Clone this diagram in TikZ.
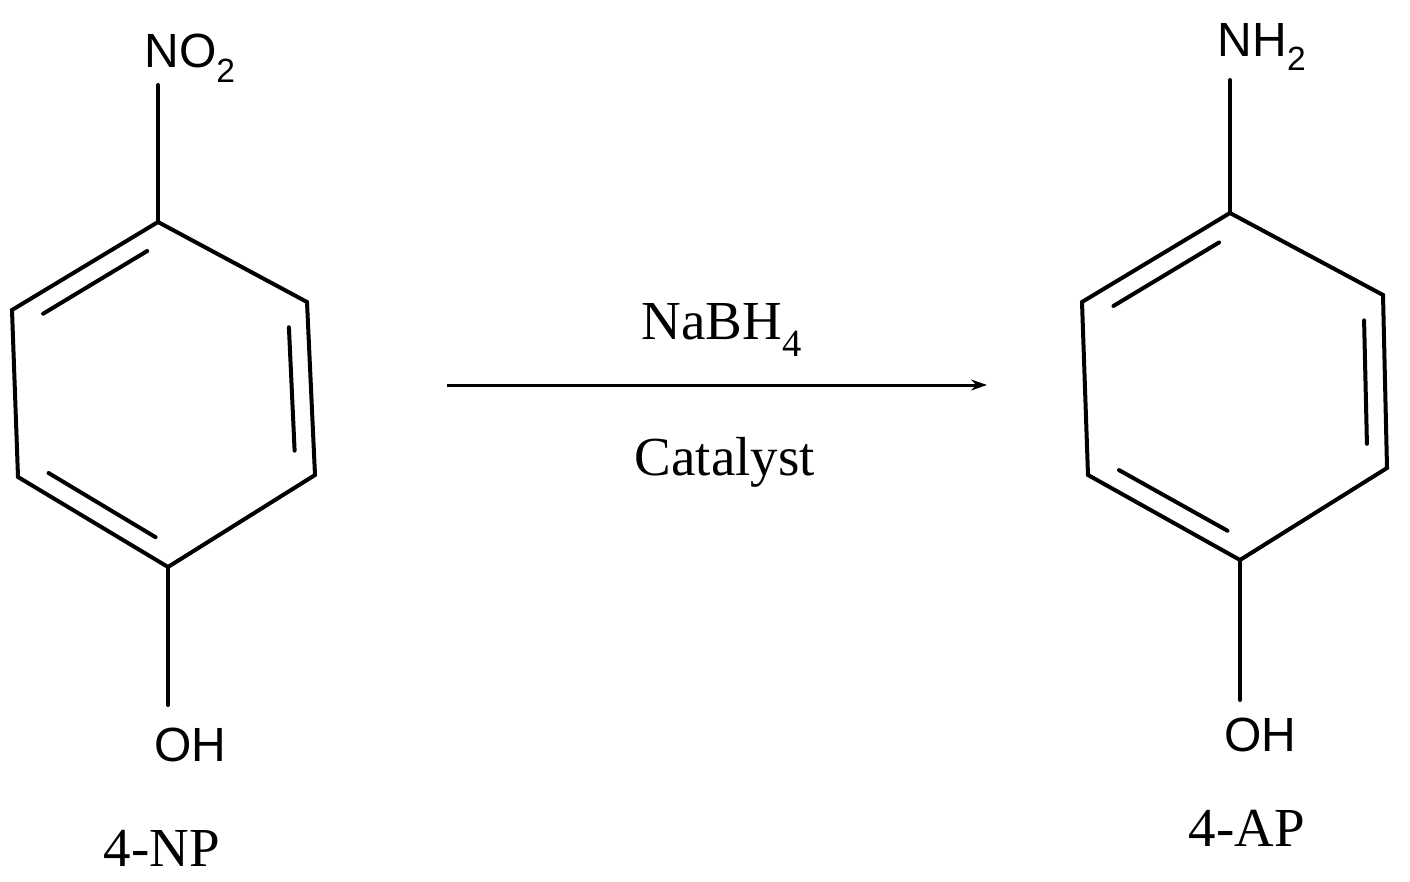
\documentclass[tikz,border=0pt]{standalone}
\usepackage{fontspec}
\setmainfont{Liberation Serif}
\newfontfamily\arial{Liberation Sans}
\usetikzlibrary{calc,arrows.meta}
\begin{document}
\begin{tikzpicture}[x=1pt,y=-1pt,bond/.style={line width=4pt,line cap=round},
 atom/.style={font=\arial\fontsize{48}{48}\selectfont,inner sep=0pt},
 lab/.style={font=\fontsize{55}{55}\selectfont,inner sep=0pt}]
\useasboundingbox (0,0) rectangle (1410,882);
% left ring
\coordinate (a1) at (158,222);\coordinate (a2) at (307,302);\coordinate (a3) at (315,475);
\coordinate (a4) at (168,567);\coordinate (a5) at (18,477);\coordinate (a6) at (12,310);
\coordinate (ac) at (163,392);
\draw[bond] (a1)--(a2)--(a3)--(a4)--(a5)--(a6)--cycle;
\draw[bond] ($(a6)!0.09!(a1)!0.13!(ac)$)--($(a1)!0.09!(a6)!0.13!(ac)$);
\draw[bond] ($(a2)!0.09!(a3)!0.13!(ac)$)--($(a3)!0.09!(a2)!0.13!(ac)$);
\draw[bond] ($(a5)!0.09!(a4)!0.13!(ac)$)--($(a4)!0.09!(a5)!0.13!(ac)$);
\node[atom] (no2) at (190,58) {NO\textsubscript{2}};
\node[atom] (oh1) at (190,745) {OH};
\draw[bond] (a1)--(158,85);
\draw[bond] (a4)--(168,705);
\node[lab] (np) at (162,848) {4-NP};
% right ring
\coordinate (b1) at (1230,213);\coordinate (b2) at (1383,295);\coordinate (b3) at (1387,468);
\coordinate (b4) at (1240,560);\coordinate (b5) at (1088,475);\coordinate (b6) at (1082,302);
\coordinate (bc) at (1235,386);
\draw[bond] (b1)--(b2)--(b3)--(b4)--(b5)--(b6)--cycle;
\draw[bond] ($(b6)!0.09!(b1)!0.13!(bc)$)--($(b1)!0.09!(b6)!0.13!(bc)$);
\draw[bond] ($(b2)!0.09!(b3)!0.13!(bc)$)--($(b3)!0.09!(b2)!0.13!(bc)$);
\draw[bond] ($(b5)!0.09!(b4)!0.13!(bc)$)--($(b4)!0.09!(b5)!0.13!(bc)$);
\node[atom] (nh2) at (1262,47) {NH\textsubscript{2}};
\node[atom] (oh2) at (1260,735) {OH};
\draw[bond] (b1)--(1230,80);
\draw[bond] (b4)--(1240,700);
\node[lab] (ap) at (1247,828) {4-AP};
% arrow
\coordinate (s) at (447,385);\coordinate (e) at (987,385);
\draw[line width=3pt,-{Stealth[length=16pt,width=11pt]}] (s)--(e);
\node[lab] (nab) at (722,330) {NaBH\textsubscript{4}};
\node[lab] (cat) at (725,462) {Catalyst};
\end{tikzpicture}
\end{document}
